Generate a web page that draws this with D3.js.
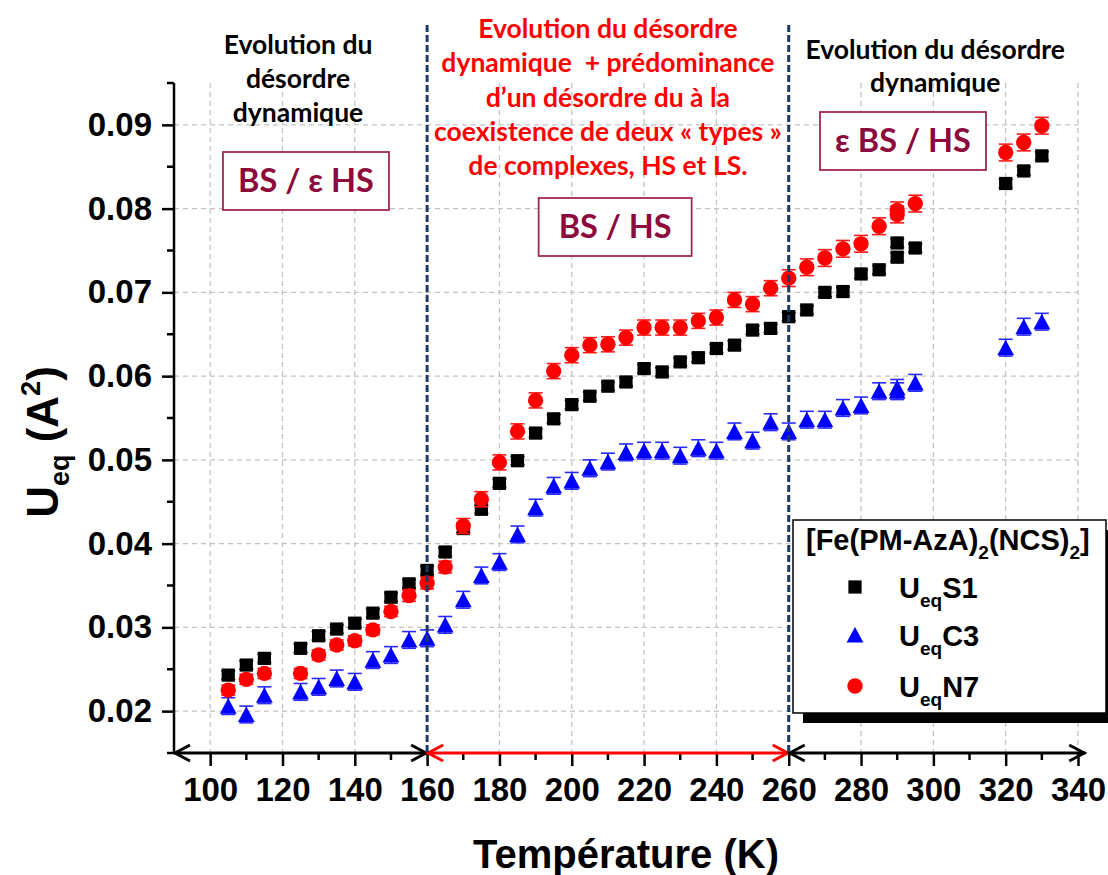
<!DOCTYPE html>
<html><head><meta charset="utf-8">
<script src="https://cdn.jsdelivr.net/npm/d3@7"></script>
<style>body{margin:0;background:#fff;} svg{display:block;} text{white-space:pre;}</style>
</head><body>
<svg id="chart" width="1108" height="875"></svg>
<script>
// ---------------- DATA ----------------
const temperatures = [105,110,115,125,130,135,140,145,150,155,160,165,170,175,180,185,190,195,200,205,210,215,220,225,230,235,240,245,250,255,260,265,270,275,280,285,290,290,295,320,325,330];
const ueqS1 = [0.0243,0.0255,0.0263,0.0275,0.0290,0.0298,0.0305,0.0317,0.0336,0.0352,0.0368,0.0390,0.0418,0.0441,0.0472,0.0499,0.0532,0.0549,0.0566,0.0576,0.0588,0.0593,0.0609,0.0605,0.0617,0.0622,0.0633,0.0637,0.0655,0.0657,0.0671,0.0679,0.0700,0.0701,0.0722,0.0727,0.0742,0.0759,0.0753,0.0830,0.0845,0.0863];
const ueqC3 = [0.0206,0.0196,0.0219,0.0223,0.0229,0.0239,0.0235,0.0261,0.0267,0.0285,0.0287,0.0303,0.0333,0.0362,0.0378,0.0411,0.0443,0.0469,0.0475,0.0490,0.0498,0.0509,0.0511,0.0511,0.0505,0.0514,0.0511,0.0534,0.0523,0.0545,0.0534,0.0548,0.0548,0.0562,0.0565,0.0582,0.0582,0.0586,0.0592,0.0634,0.0659,0.0665];
const ueqN7 = [0.0225,0.0238,0.0245,0.0245,0.0267,0.0279,0.0284,0.0297,0.0319,0.0338,0.0353,0.0372,0.0421,0.0453,0.0497,0.0534,0.0571,0.0606,0.0625,0.0637,0.0638,0.0646,0.0658,0.0658,0.0658,0.0666,0.0670,0.0691,0.0686,0.0705,0.0717,0.0730,0.0741,0.0752,0.0758,0.0779,0.0793,0.0798,0.0806,0.0867,0.0879,0.0899];
const errS1 = [0.0005,0.0005,0.0005,0.0005,0.0005,0.0005,0.0005,0.0005,0.0005,0.0005,0.0005,0.0005,0.0005,0.0005,0.0005,0.0005,0.0005,0.0005,0.0005,0.0005,0.0005,0.0005,0.0005,0.0005,0.0005,0.0005,0.0005,0.0005,0.0005,0.0005,0.0005,0.0005,0.0005,0.0005,0.0005,0.0005,0.0005,0.0005,0.0005,0.0005,0.0005,0.0005];
const errC3 = [0.0010,0.0010,0.0010,0.0010,0.0010,0.0010,0.0010,0.0010,0.0010,0.0010,0.0010,0.0010,0.0010,0.0010,0.0010,0.0010,0.0010,0.0010,0.0010,0.0010,0.0010,0.0010,0.0010,0.0010,0.0010,0.0010,0.0010,0.0010,0.0010,0.0010,0.0010,0.0010,0.0010,0.0010,0.0010,0.0010,0.0010,0.0010,0.0010,0.0010,0.0010,0.0010];
const errN7 = [0.0006,0.0006,0.0006,0.0006,0.0006,0.0006,0.0006,0.0006,0.0006,0.0007,0.0007,0.0007,0.0009,0.0009,0.0009,0.0009,0.0009,0.0009,0.0009,0.0009,0.0009,0.0009,0.0009,0.0009,0.0009,0.0009,0.0009,0.0009,0.0009,0.0009,0.0010,0.0010,0.0010,0.0010,0.0010,0.0010,0.0010,0.0010,0.0010,0.0010,0.0010,0.0010];
const xTicks = [100,120,140,160,180,200,220,240,260,280,300,320,340];
const xMinorTicks = [110,130,150,170,190,210,230,250,270,290,310,330];
const yTicks = [0.02,0.03,0.04,0.05,0.06,0.07,0.08,0.09];
const yMinorTicks = [0.015,0.025,0.035,0.045,0.055,0.065,0.075,0.085,0.095];
const regionBounds = [160, 260];
const seriesLabels = ["S1","C3","N7"];
const legendTitle = ["[Fe(PM-AzA)","2","(NCS)","2","]"];
const leftNote = ["Evolution du","désordre","dynamique"];
const midNote = ["Evolution du désordre","dynamique  + prédominance","d\u2019un désordre du à la","coexistence de deux « types »","de complexes, HS et LS."];
const rightNote = ["Evolution du désordre","dynamique"];
const boxLabels = ["BS / \u03b5 HS","BS / HS","\u03b5 BS / HS"];

// ---------------- CHART ----------------
const svg = d3.select("#chart");
const x = d3.scaleLinear().domain([90,340]).range([174,1078]);
const y = d3.scaleLinear().domain([0.015,0.095]).range([753,83]);
const ARIAL = "'Liberation Sans', Arial, sans-serif";
const CALIBRI = "Lato, 'Open Sans', sans-serif";

// grid
const grid = svg.append("g").attr("stroke","#c4c4c4").attr("stroke-width",1.3).attr("stroke-dasharray","5,4");
grid.selectAll("line.gx").data(xTicks.filter(t=>!regionBounds.includes(t))).join("line")
  .attr("x1",d=>x(d)).attr("x2",d=>x(d)).attr("y1",y(0.095)).attr("y2",y(0.015));
grid.selectAll("line.gy").data(yTicks).join("line")
  .attr("x1",x(90)).attr("x2",x(340)).attr("y1",d=>y(d)).attr("y2",d=>y(d));

// y axis
const yAxis = d3.axisLeft(y).tickValues(yTicks).tickFormat(d3.format(".2f")).tickSize(12).tickPadding(10);
const gy = svg.append("g").attr("transform",`translate(${x(90)},0)`).call(yAxis);
gy.select(".domain").attr("stroke","#000").attr("stroke-width",2.5).attr("d",`M0,${y(0.095)}V${y(0.015)}`);
gy.selectAll(".tick line").attr("stroke","#000").attr("stroke-width",2.5);
gy.selectAll(".tick text").attr("font-family",ARIAL).attr("font-weight","bold").attr("font-size",33).attr("fill","#000");
gy.selectAll("line.minor").data(yMinorTicks).join("line").attr("class","minor")
  .attr("x1",-7).attr("x2",0).attr("y1",d=>y(d)).attr("y2",d=>y(d)).attr("stroke","#000").attr("stroke-width",2.5);

// x axis
const xAxis = d3.axisBottom(x).tickValues(xTicks).tickFormat(d3.format("d")).tickSize(13).tickPadding(12);
const gx = svg.append("g").attr("transform",`translate(0,${y(0.015)})`).call(xAxis);
gx.select(".domain").remove();
gx.selectAll(".tick line").attr("stroke","#000").attr("stroke-width",2.5);
gx.selectAll(".tick text").attr("font-family",ARIAL).attr("font-weight","bold").attr("font-size",33).attr("fill","#000");
gx.selectAll("line.minor").data(xMinorTicks).join("line").attr("class","minor")
  .attr("y1",0).attr("y2",7).attr("x1",d=>x(d)).attr("x2",d=>x(d)).attr("stroke","#000").attr("stroke-width",2.5);

// region arrows along x axis
const arrowSegs = [[90,160,"#000"],[160,260,"#ff0000"],[260,342,"#000"]];
const ya = y(0.015);
arrowSegs.forEach(([a,b,c])=>{
  const g = svg.append("g").attr("stroke",c).attr("stroke-width",3).attr("fill","none");
  g.append("line").attr("x1",x(a)).attr("x2",x(b)).attr("y1",ya).attr("y2",ya);
  g.append("path").attr("d",`M${x(a)+16},${ya-8}L${x(a)+1},${ya}L${x(a)+16},${ya+8}`);
  g.append("path").attr("d",`M${x(b)-16},${ya-8}L${x(b)-1},${ya}L${x(b)-16},${ya+8}`);
});

// data
const rows = temperatures.map((t,i)=>({t, s1:ueqS1[i], c3:ueqC3[i], n7:ueqN7[i], es1:errS1[i], ec3:errC3[i], en7:errN7[i]}));
const triType = {draw(ctx,size){const r=Math.sqrt(size)/2; ctx.moveTo(0,-r); ctx.lineTo(r*1.05,r*0.95); ctx.lineTo(-r*1.05,r*0.95); ctx.closePath();}};
const series = [
  {key:"s1", err:"es1", color:"#000", ecolor:"#000", sym:d3.symbol().type(d3.symbolSquare).size(175)()},
  {key:"c3", err:"ec3", color:"#0000ff", ecolor:"#2a2aff", sym:d3.symbol().type(triType).size(256)()},
  {key:"n7", err:"en7", color:"#ff0000", ecolor:"#ff1a1a", sym:d3.symbol().type(d3.symbolCircle).size(185)()}
];
series.forEach(s=>{
  const g = svg.append("g");
  const eb = g.append("g").attr("stroke",s.ecolor).attr("stroke-width",1.6);
  rows.forEach(r=>{
    const cx=x(r.t), y1=y(r[s.key]+r[s.err]), y2=y(r[s.key]-r[s.err]);
    eb.append("line").attr("x1",cx).attr("x2",cx).attr("y1",y1).attr("y2",y2);
    eb.append("line").attr("x1",cx-7).attr("x2",cx+7).attr("y1",y1).attr("y2",y1);
    eb.append("line").attr("x1",cx-7).attr("x2",cx+7).attr("y1",y2).attr("y2",y2);
  });
  g.selectAll("path.m").data(rows).join("path").attr("class","m")
    .attr("d",s.sym).attr("transform",r=>`translate(${x(r.t)},${y(r[s.key])})`).attr("fill",s.color);
});

// region separators
svg.selectAll("line.sep").data(regionBounds).join("line").attr("class","sep")
  .attr("x1",d=>x(d)).attr("x2",d=>x(d)).attr("y1",25).attr("y2",y(0.015))
  .attr("stroke","#1f3a60").attr("stroke-width",3).attr("stroke-dasharray","7,3");

// annotations
function block(lines, cx, y0, dy, color){
  const t = svg.append("text").attr("font-family",CALIBRI).attr("font-weight","bold").attr("font-size",26.5)
    .attr("fill",color).attr("text-anchor","middle");
  lines.forEach((l,i)=>t.append("tspan").attr("x",cx).attr("y",y0+i*dy).text(l));
}
block(leftNote, x(124.3), 54, 34, "#000");
block(midNote, x(210), 38, 34.3, "#ff0000");
block(rightNote, x(300.5), 59, 33, "#000");

const boxes = [[x(126.5),181,166,58],[x(212),227,153,58],[x(291.6),141,166,58]];
boxes.forEach(([cx,cy,w,h],i)=>{
  svg.append("rect").attr("x",cx-w/2).attr("y",cy-h/2).attr("width",w).attr("height",h)
    .attr("fill","#fff").attr("stroke","#a0284f").attr("stroke-width",1.8);
  svg.append("text").attr("x",cx).attr("y",cy+11).attr("text-anchor","middle")
    .attr("font-family",CALIBRI).attr("font-weight","bold").attr("font-size",32.5).attr("fill","#8c0a3c").text(boxLabels[i]);
});

// legend
const lg = svg.append("g");
lg.append("rect").attr("x",803).attr("y",530).attr("width",313).attr("height",193).attr("fill","#000");
lg.append("rect").attr("x",793).attr("y",520).attr("width",313).attr("height",193).attr("fill","#fff").attr("stroke","#000").attr("stroke-width",1.5);
const lt = lg.append("text").attr("x",806).attr("y",550).attr("font-family",ARIAL).attr("font-weight","bold").attr("font-size",29).attr("fill","#000");
lt.append("tspan").text(legendTitle[0]);
lt.append("tspan").attr("font-size",19).attr("dy",9).text(legendTitle[1]);
lt.append("tspan").attr("dy",-9).text(legendTitle[2]);
lt.append("tspan").attr("font-size",19).attr("dy",9).text(legendTitle[3]);
lt.append("tspan").attr("dy",-9).text(legendTitle[4]);
const legY = [587,635,686];
series.forEach((s,i)=>{
  lg.append("path").attr("d",s.sym).attr("transform",`translate(855,${legY[i]})`).attr("fill",s.color);
  const tt = lg.append("text").attr("x",899).attr("y",legY[i]+11).attr("font-family",ARIAL).attr("font-weight","bold").attr("font-size",29).attr("fill","#000");
  tt.append("tspan").text("U");
  tt.append("tspan").attr("font-size",19).attr("dy",9).text("eq");
  tt.append("tspan").attr("dy",-9).text(seriesLabels[i]);
});

// axis titles
svg.append("text").attr("x",626).attr("y",868).attr("text-anchor","middle")
  .attr("font-family",ARIAL).attr("font-weight","bold").attr("font-size",40).attr("fill","#000").text("Température (K)");
const yt = svg.append("text").attr("transform","translate(58,442) rotate(-90)").attr("text-anchor","middle")
  .attr("font-family",ARIAL).attr("font-weight","bold").attr("font-size",44).attr("fill","#000");
yt.append("tspan").text("U");
yt.append("tspan").attr("font-size",27).attr("dy",11).text("eq");
yt.append("tspan").attr("dy",-11).text(" (A");
yt.append("tspan").attr("font-size",27).attr("dy",-18).text("2");
yt.append("tspan").attr("dy",18).text(")");
</script>
</body></html>
